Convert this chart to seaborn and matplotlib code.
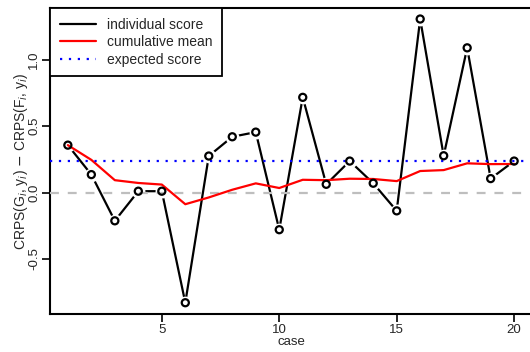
import matplotlib
matplotlib.use("Agg")
import matplotlib.pyplot as plt
import numpy as np
import pandas as pd
import seaborn as sns

# values
case = list(range(1, 21))
individual = [0.357, 0.135, -0.213, 0.01, 0.01, -0.83, 0.275, 0.42, 0.455, -0.28,
              0.717, 0.062, 0.237, 0.07, -0.138, 1.307, 0.277, 1.09, 0.105, 0.237]
cum_mean = [0.357, 0.246, 0.093, 0.072, 0.060, -0.088, -0.037, 0.021, 0.069, 0.034,
            0.096, 0.093, 0.104, 0.102, 0.086, 0.162, 0.169, 0.220, 0.214, 0.215]
expected = 0.235
y_ticks = [-0.5, 0.0, 0.5, 1.0]
x_ticks = [5, 10, 15, 20]

df = pd.DataFrame({"case": case, "individual": individual, "cum_mean": cum_mean})

sns.set_style("white")
plt.rcParams["font.family"] = ["Liberation Sans", "DejaVu Sans"]
plt.rcParams["axes.unicode_minus"] = False

fig = plt.figure(figsize=(5.3, 3.52), dpi=100)
ax = fig.add_axes([50 / 530, 38 / 352, 482 / 530, 306 / 352])

sns.lineplot(data=df, x="case", y="individual", color="black", lw=1.6,
             ax=ax, zorder=2, label="individual score")
# white disks break the black line around each point (R type="b")
ax.scatter(df["case"], df["individual"], s=100, color="white", lw=0, zorder=2.5)
ax.axhline(0, color="#BEBEBE", lw=1.6, ls=(0, (4, 4)), zorder=2.7)
sns.lineplot(data=df, x="case", y="cum_mean", color="red", lw=1.6,
             ax=ax, zorder=3, label="cumulative mean")
ax.axhline(expected, color="blue", lw=1.6, ls=(0, (1, 3)), zorder=3,
           label="expected score")
sns.scatterplot(data=df, x="case", y="individual", s=26, facecolor="none",
                edgecolor="black", linewidth=1.6, ax=ax, zorder=4)

ax.set_xlim(0.24, 20.76)
ax.set_ylim(-0.915, 1.39)
ax.set_xticks(x_ticks)
ax.set_yticks(y_ticks)
ax.set_yticklabels([f"{v:.1f}" for v in y_ticks], rotation=90, va="center")
ax.tick_params(axis="both", direction="out", length=6, width=1.2,
               labelsize=9.5, color="black", left=True, bottom=True)
ax.tick_params(axis="x", pad=1.5)
ax.tick_params(axis="y", pad=1)
for s in ax.spines.values():
    s.set_color("black")
    s.set_linewidth(1.5)

ax.set_xlabel("case", fontsize=9.5, labelpad=0)
ax.set_ylabel(r"CRPS(G$_i$, y$_i$) $-$ CRPS(F$_i$, y$_i$)", fontsize=10, labelpad=-1)

leg = ax.legend(loc="upper left", borderaxespad=0, fancybox=False, fontsize=10,
                handlelength=2.6, handletextpad=0.8, borderpad=0.7,
                labelspacing=0.25, framealpha=1)
leg.get_frame().set_edgecolor("black")
leg.get_frame().set_linewidth(1.3)

fig.savefig("out.png", dpi=100)
